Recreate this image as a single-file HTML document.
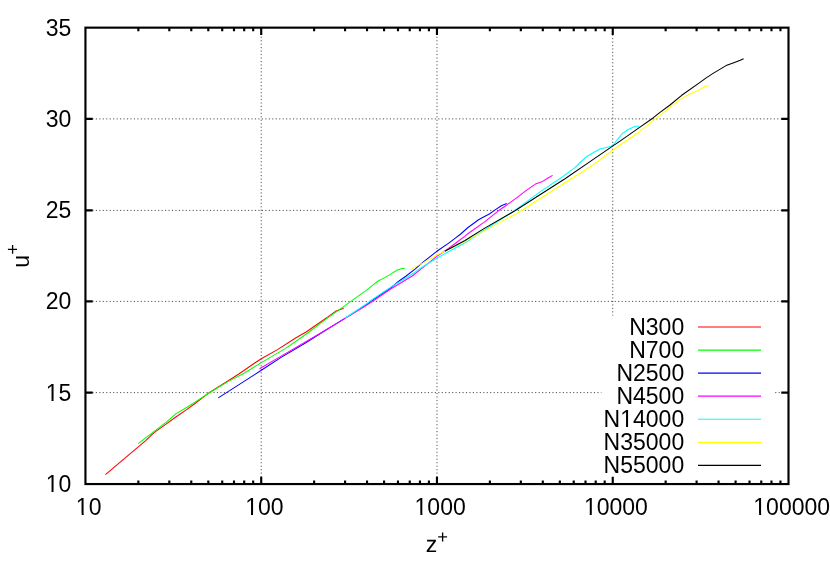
<!DOCTYPE html>
<html><head><meta charset="utf-8"><title>plot</title>
<style>html,body{margin:0;padding:0;background:#fff;overflow:hidden;}svg{display:block;will-change:transform;}text{font-family:"Liberation Sans",sans-serif;fill:#000;}</style></head><body>
<svg width="830" height="581" viewBox="0 0 830 581">
<rect width="830" height="581" fill="#fff"/>
<g stroke="#000" stroke-width="0.7" stroke-dasharray="1.153 2.306" fill="none">
<path d="M85.45 392.60H601.40"/>
<path d="M775.20 392.60H788.50"/>
<path d="M85.45 301.40H788.50"/>
<path d="M85.45 210.40H788.50"/>
<path d="M85.45 118.90H788.50"/>
<path d="M261.21 484.05V27.65"/>
<path d="M436.97 484.05V27.65"/>
<path d="M612.74 27.65V315.60"/>
</g>
<g stroke="#000" stroke-width="2.15" fill="none" stroke-linecap="butt">
<path d="M85.45 392.55h7.26 M788.50 392.55h-7.26"/>
<path d="M85.45 301.35h7.26 M788.50 301.35h-7.26"/>
<path d="M85.45 210.35h7.26 M788.50 210.35h-7.26"/>
<path d="M85.45 118.85h7.26 M788.50 118.85h-7.26"/>
<path d="M138.36 484.05v-3.63 M138.36 27.65v3.63"/>
<path d="M169.31 484.05v-3.63 M169.31 27.65v3.63"/>
<path d="M191.27 484.05v-3.63 M191.27 27.65v3.63"/>
<path d="M208.30 484.05v-3.63 M208.30 27.65v3.63"/>
<path d="M222.22 484.05v-3.63 M222.22 27.65v3.63"/>
<path d="M233.99 484.05v-3.63 M233.99 27.65v3.63"/>
<path d="M244.18 484.05v-3.63 M244.18 27.65v3.63"/>
<path d="M253.17 484.05v-3.63 M253.17 27.65v3.63"/>
<path d="M261.21 484.05v-7.26 M261.21 27.65v7.26"/>
<path d="M314.12 484.05v-3.63 M314.12 27.65v3.63"/>
<path d="M345.07 484.05v-3.63 M345.07 27.65v3.63"/>
<path d="M367.03 484.05v-3.63 M367.03 27.65v3.63"/>
<path d="M384.07 484.05v-3.63 M384.07 27.65v3.63"/>
<path d="M397.98 484.05v-3.63 M397.98 27.65v3.63"/>
<path d="M409.75 484.05v-3.63 M409.75 27.65v3.63"/>
<path d="M419.94 484.05v-3.63 M419.94 27.65v3.63"/>
<path d="M428.93 484.05v-3.63 M428.93 27.65v3.63"/>
<path d="M436.97 484.05v-7.26 M436.97 27.65v7.26"/>
<path d="M489.88 484.05v-3.63 M489.88 27.65v3.63"/>
<path d="M520.84 484.05v-3.63 M520.84 27.65v3.63"/>
<path d="M542.79 484.05v-3.63 M542.79 27.65v3.63"/>
<path d="M559.83 484.05v-3.63 M559.83 27.65v3.63"/>
<path d="M573.74 484.05v-3.63 M573.74 27.65v3.63"/>
<path d="M585.51 484.05v-3.63 M585.51 27.65v3.63"/>
<path d="M595.70 484.05v-3.63 M595.70 27.65v3.63"/>
<path d="M604.70 484.05v-3.63 M604.70 27.65v3.63"/>
<path d="M612.74 484.05v-7.26 M612.74 27.65v7.26"/>
<path d="M665.65 484.05v-3.63 M665.65 27.65v3.63"/>
<path d="M696.60 484.05v-3.63 M696.60 27.65v3.63"/>
<path d="M718.56 484.05v-3.63 M718.56 27.65v3.63"/>
<path d="M735.59 484.05v-3.63 M735.59 27.65v3.63"/>
<path d="M749.51 484.05v-3.63 M749.51 27.65v3.63"/>
<path d="M761.27 484.05v-3.63 M761.27 27.65v3.63"/>
<path d="M771.47 484.05v-3.63 M771.47 27.65v3.63"/>
<path d="M780.46 484.05v-3.63 M780.46 27.65v3.63"/>
<rect x="85.45" y="27.65" width="703.05" height="456.40"/>
</g>
<path d="M105.4 474.7 L145.4 440.8 L154.1 432.6 L166.0 424.1 L176.2 416.8 L187.0 409.4 L195.0 403.5 L209.5 392.4 L227.5 381.2 L238.4 374.3 L245.0 369.8 L255.1 362.8 L261.3 358.8 L277.5 349.6 L295.6 338.0 L306.1 332.0 L326.7 317.8 L335.4 311.3 L343.7 308.2" stroke="#ff0000" stroke-width="1.05" fill="none" stroke-linejoin="round"/>
<path d="M138.2 443.6 L142.1 440.7 L154.1 431.4 L166.0 422.3 L176.2 413.6 L187.0 407.2 L195.0 402.1 L209.5 392.7 L227.5 381.9 L245.0 372.7 L261.3 362.6 L284.8 348.9 L298.2 339.7 L309.0 332.0 L326.7 318.6 L342.6 307.4 L355.0 298.4 L365.9 290.6 L373.1 284.8 L378.1 281.0 L383.9 278.1 L391.1 273.9 L396.9 270.3 L401.3 268.7 L404.9 268.3" stroke="#00ff00" stroke-width="1.05" fill="none" stroke-linejoin="round"/>
<path d="M218.3 397.9 L255.0 374.4 L261.3 370.2 L281.1 357.4 L305.0 343.2 L322.4 332.3 L344.8 318.4 L365.0 305.6 L372.8 300.0 L391.1 287.6 L398.4 281.5 L406.1 276.0 L415.0 269.2 L423.1 262.2 L436.8 251.3 L448.4 243.4 L455.0 238.4 L460.7 234.0 L468.0 227.5 L478.9 219.5 L489.7 213.7 L494.8 210.1 L501.3 205.8 L506.7 203.5" stroke="#0000ff" stroke-width="1.05" fill="none" stroke-linejoin="round"/>
<path d="M259.5 368.7 L281.1 356.1 L305.0 342.3 L322.4 332.0 L344.8 318.6 L365.0 306.3 L374.5 300.0 L391.1 288.7 L412.2 276.0 L423.1 267.3 L436.8 256.4 L448.4 248.5 L457.2 242.0 L465.0 236.2 L469.5 232.5 L483.9 222.4 L498.4 210.8 L505.0 206.3 L515.9 198.4 L526.7 190.1 L535.4 184.1 L542.6 181.4 L548.4 177.8 L552.6 175.4" stroke="#ff00ff" stroke-width="1.05" fill="none" stroke-linejoin="round"/>
<path d="M344.8 318.2 L365.0 304.8 L371.6 300.0 L391.1 286.9 L409.3 276.0 L415.0 272.1 L423.1 266.5 L436.8 258.2 L448.4 251.7 L465.0 242.7 L515.0 210.1 L541.1 191.1 L563.0 176.5 L574.5 167.8 L586.0 157.0 L594.0 152.3 L600.5 148.7 L606.3 147.4 L610.6 146.5 L613.5 144.5 L617.0 140.0 L620.0 136.3 L622.3 133.5 L628.8 129.3 L635.3 126.3 L639.6 126.3" stroke="#00ffff" stroke-width="1.05" fill="none" stroke-linejoin="round"/>
<path d="M409.9 269.6 L423.1 262.9 L436.8 255.0 L444.8 251.3 L465.0 241.6 L483.9 231.1 L498.4 223.1 L515.0 214.5 L522.7 210.0 L541.1 198.0 L565.0 182.8 L572.6 178.0 L588.9 167.8 L612.6 150.5 L620.0 145.0 L638.9 132.2 L653.4 120.3 L662.2 113.6 L670.9 106.7 L681.7 98.4 L690.4 93.7 L699.0 90.1 L704.8 86.5 L708.8 85.6" stroke="#ffff00" stroke-width="1.05" fill="none" stroke-linejoin="round"/>
<path d="M444.8 251.3 L465.0 240.5 L483.9 228.6 L515.0 210.8 L541.1 194.0 L565.0 178.8 L588.9 162.4 L612.6 146.1 L620.0 141.1 L640.0 127.1 L653.4 117.7 L660.0 112.4 L670.0 105.0 L681.7 95.3 L699.7 82.6 L705.8 78.1 L713.1 73.4 L718.5 70.1 L726.1 65.6 L734.5 62.5 L740.2 60.3 L743.6 58.7" stroke="#000000" stroke-width="1.05" fill="none" stroke-linejoin="round"/>
<path d="M698.0 327.00H761.0" stroke="#ff0000" stroke-width="1.15" fill="none"/>
<text x="684.2" y="334.90" font-size="23.00" text-anchor="end">N300</text>
<path d="M698.0 350.06H761.0" stroke="#00ff00" stroke-width="1.15" fill="none"/>
<text x="684.2" y="357.96" font-size="23.00" text-anchor="end">N700</text>
<path d="M698.0 373.12H761.0" stroke="#0000ff" stroke-width="1.15" fill="none"/>
<text x="684.2" y="381.02" font-size="23.00" text-anchor="end">N2500</text>
<path d="M698.0 396.18H761.0" stroke="#ff00ff" stroke-width="1.15" fill="none"/>
<text x="684.2" y="404.08" font-size="23.00" text-anchor="end">N4500</text>
<path d="M698.0 419.24H761.0" stroke="#00ffff" stroke-width="1.15" fill="none"/>
<text x="684.2" y="427.14" font-size="23.00" text-anchor="end">N14000</text>
<path d="M698.0 442.30H761.0" stroke="#ffff00" stroke-width="1.15" fill="none"/>
<text x="684.2" y="450.20" font-size="23.00" text-anchor="end">N35000</text>
<path d="M698.0 465.36H761.0" stroke="#000000" stroke-width="1.15" fill="none"/>
<text x="684.2" y="473.26" font-size="23.00" text-anchor="end">N55000</text>
<text x="71.3" y="492.05" font-size="23.00" text-anchor="end">10</text>
<text x="71.3" y="400.74" font-size="23.00" text-anchor="end">15</text>
<text x="71.3" y="309.43" font-size="23.00" text-anchor="end">20</text>
<text x="71.3" y="218.12" font-size="23.00" text-anchor="end">25</text>
<text x="71.3" y="126.81" font-size="23.00" text-anchor="end">30</text>
<text x="71.3" y="35.50" font-size="23.00" text-anchor="end">35</text>
<text x="88.65" y="515.3" font-size="23.00" text-anchor="middle">10</text>
<text x="264.41" y="515.3" font-size="23.00" text-anchor="middle">100</text>
<text x="440.17" y="515.3" font-size="23.00" text-anchor="middle">1000</text>
<text x="615.94" y="515.3" font-size="23.00" text-anchor="middle">10000</text>
<text x="791.70" y="515.3" font-size="23.00" text-anchor="middle">100000</text>
<text x="425.8" y="552.3" font-size="23.00" text-rendering="geometricPrecision">z<tspan dy="-9.7" font-size="18.4">+</tspan></text>
<text transform="translate(29.4 267.65) rotate(-90)" font-size="23.00">u<tspan dy="-10.3" font-size="18.4">+</tspan></text>
<g fill="#fff" stroke="none">
<rect x="621.331" y="425.00" width="4.684" height="2"/>
<rect x="628.048" y="425.00" width="4.584" height="2"/>
<rect x="46.806" y="490.00" width="4.684" height="2"/>
<rect x="53.523" y="490.00" width="4.584" height="2"/>
<rect x="46.806" y="399.00" width="4.684" height="2"/>
<rect x="53.523" y="399.00" width="4.584" height="2"/>
<rect x="76.953" y="513.00" width="4.684" height="2"/>
<rect x="83.670" y="513.00" width="4.584" height="2"/>
<rect x="246.323" y="513.00" width="4.684" height="2"/>
<rect x="253.039" y="513.00" width="4.584" height="2"/>
<rect x="415.684" y="513.00" width="4.684" height="2"/>
<rect x="422.400" y="513.00" width="4.584" height="2"/>
<rect x="585.056" y="513.00" width="4.684" height="2"/>
<rect x="591.772" y="513.00" width="4.584" height="2"/>
<rect x="754.425" y="513.00" width="4.684" height="2"/>
<rect x="761.141" y="513.00" width="4.584" height="2"/>
</g>
</svg></body></html>
